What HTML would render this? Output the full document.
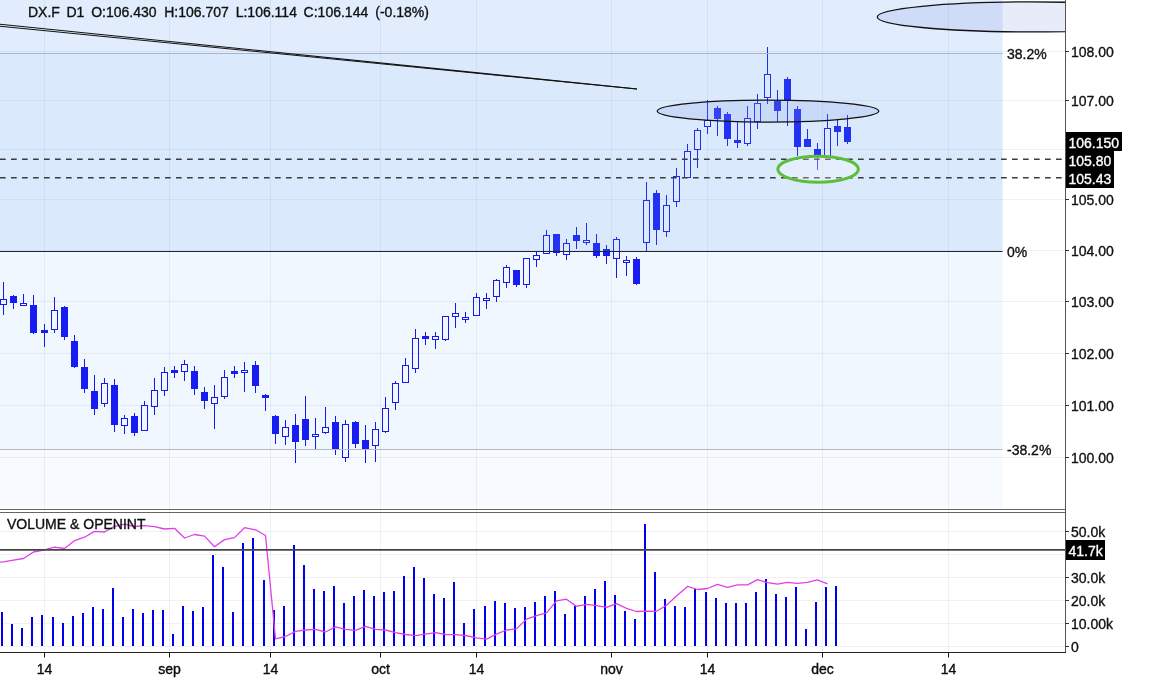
<!DOCTYPE html>
<html><head><meta charset="utf-8"><title>DX.F D1</title>
<style>html,body{margin:0;padding:0;background:#fff;}svg{display:block;will-change:transform;}</style>
</head><body>
<svg width="1150" height="682" viewBox="0 0 1150 682" style="font-family:&quot;Liberation Sans&quot;,Arial,sans-serif"><style>text{stroke:currentColor;stroke-width:0.35px;}</style>
<rect width="1150" height="682" fill="#fff"/>
<line x1="0" x2="1065" y1="51.5" y2="51.5" stroke="rgba(40,50,70,0.065)" stroke-width="1"/>
<line x1="0" x2="1065" y1="100.5" y2="100.5" stroke="rgba(40,50,70,0.065)" stroke-width="1"/>
<line x1="0" x2="1065" y1="149.5" y2="149.5" stroke="rgba(40,50,70,0.065)" stroke-width="1"/>
<line x1="0" x2="1065" y1="199.5" y2="199.5" stroke="rgba(40,50,70,0.065)" stroke-width="1"/>
<line x1="0" x2="1065" y1="250.5" y2="250.5" stroke="rgba(40,50,70,0.065)" stroke-width="1"/>
<line x1="0" x2="1065" y1="301.5" y2="301.5" stroke="rgba(40,50,70,0.065)" stroke-width="1"/>
<line x1="0" x2="1065" y1="353.5" y2="353.5" stroke="rgba(40,50,70,0.065)" stroke-width="1"/>
<line x1="0" x2="1065" y1="405.5" y2="405.5" stroke="rgba(40,50,70,0.065)" stroke-width="1"/>
<line x1="0" x2="1065" y1="457.5" y2="457.5" stroke="rgba(40,50,70,0.065)" stroke-width="1"/>
<line x1="0" x2="1065" y1="531.5" y2="531.5" stroke="rgba(40,50,70,0.065)" stroke-width="1"/>
<line x1="0" x2="1065" y1="554.5" y2="554.5" stroke="rgba(40,50,70,0.065)" stroke-width="1"/>
<line x1="0" x2="1065" y1="577.5" y2="577.5" stroke="rgba(40,50,70,0.065)" stroke-width="1"/>
<line x1="0" x2="1065" y1="600.5" y2="600.5" stroke="rgba(40,50,70,0.065)" stroke-width="1"/>
<line x1="0" x2="1065" y1="623.5" y2="623.5" stroke="rgba(40,50,70,0.065)" stroke-width="1"/>
<line x1="0" x2="1065" y1="646.5" y2="646.5" stroke="rgba(40,50,70,0.065)" stroke-width="1"/>
<line x1="44.5" x2="44.5" y1="0" y2="652" stroke="rgba(40,50,70,0.065)" stroke-width="1"/>
<line x1="169.5" x2="169.5" y1="0" y2="652" stroke="rgba(40,50,70,0.065)" stroke-width="1"/>
<line x1="270.5" x2="270.5" y1="0" y2="652" stroke="rgba(40,50,70,0.065)" stroke-width="1"/>
<line x1="380.5" x2="380.5" y1="0" y2="652" stroke="rgba(40,50,70,0.065)" stroke-width="1"/>
<line x1="476.5" x2="476.5" y1="0" y2="652" stroke="rgba(40,50,70,0.065)" stroke-width="1"/>
<line x1="611.5" x2="611.5" y1="0" y2="652" stroke="rgba(40,50,70,0.065)" stroke-width="1"/>
<line x1="707.5" x2="707.5" y1="0" y2="652" stroke="rgba(40,50,70,0.065)" stroke-width="1"/>
<line x1="822.5" x2="822.5" y1="0" y2="652" stroke="rgba(40,50,70,0.065)" stroke-width="1"/>
<line x1="948.5" x2="948.5" y1="0" y2="652" stroke="rgba(40,50,70,0.065)" stroke-width="1"/>
<rect x="3" y="282" width="1" height="17" fill="#0c0cf0"/>
<rect x="3" y="305" width="1" height="10" fill="#0c0cf0"/>
<rect x="0.5" y="299.5" width="6" height="5" fill="none" stroke="#0c0cf0" stroke-width="1"/>
<rect x="13" y="295" width="1" height="1" fill="#0c0cf0"/>
<rect x="13" y="303" width="1" height="6" fill="#0c0cf0"/>
<rect x="10" y="296" width="7" height="7" fill="#1010f2"/>
<rect x="23" y="294" width="1" height="9" fill="#0c0cf0"/>
<rect x="20.5" y="303.5" width="6" height="2" fill="none" stroke="#0c0cf0" stroke-width="1"/>
<rect x="33" y="295" width="1" height="10" fill="#0c0cf0"/>
<rect x="33" y="333" width="1" height="1" fill="#0c0cf0"/>
<rect x="30" y="305" width="7" height="28" fill="#1010f2"/>
<rect x="44" y="324" width="1" height="6" fill="#0c0cf0"/>
<rect x="44" y="333" width="1" height="14" fill="#0c0cf0"/>
<rect x="41" y="330" width="7" height="3" fill="#1010f2"/>
<rect x="54" y="297" width="1" height="13" fill="#0c0cf0"/>
<rect x="54" y="330" width="1" height="3" fill="#0c0cf0"/>
<rect x="51.5" y="310.5" width="6" height="19" fill="none" stroke="#0c0cf0" stroke-width="1"/>
<rect x="64" y="306" width="1" height="1" fill="#0c0cf0"/>
<rect x="64" y="337" width="1" height="3" fill="#0c0cf0"/>
<rect x="61" y="307" width="7" height="30" fill="#1010f2"/>
<rect x="74" y="335" width="1" height="6" fill="#0c0cf0"/>
<rect x="74" y="367" width="1" height="1" fill="#0c0cf0"/>
<rect x="71" y="341" width="7" height="26" fill="#1010f2"/>
<rect x="84" y="359" width="1" height="8" fill="#0c0cf0"/>
<rect x="84" y="389" width="1" height="4" fill="#0c0cf0"/>
<rect x="81" y="367" width="7" height="22" fill="#1010f2"/>
<rect x="94" y="375" width="1" height="16" fill="#0c0cf0"/>
<rect x="94" y="409" width="1" height="6" fill="#0c0cf0"/>
<rect x="91" y="391" width="7" height="18" fill="#1010f2"/>
<rect x="104" y="378" width="1" height="5" fill="#0c0cf0"/>
<rect x="104" y="404" width="1" height="3" fill="#0c0cf0"/>
<rect x="101.5" y="383.5" width="6" height="20" fill="none" stroke="#0c0cf0" stroke-width="1"/>
<rect x="114" y="379" width="1" height="6" fill="#0c0cf0"/>
<rect x="114" y="425" width="1" height="7" fill="#0c0cf0"/>
<rect x="111" y="385" width="7" height="40" fill="#1010f2"/>
<rect x="124" y="415" width="1" height="3" fill="#0c0cf0"/>
<rect x="124" y="426" width="1" height="8" fill="#0c0cf0"/>
<rect x="121.5" y="418.5" width="6" height="7" fill="none" stroke="#0c0cf0" stroke-width="1"/>
<rect x="134" y="413" width="1" height="3" fill="#0c0cf0"/>
<rect x="134" y="433" width="1" height="3" fill="#0c0cf0"/>
<rect x="131" y="416" width="7" height="17" fill="#1010f2"/>
<rect x="144" y="401" width="1" height="4" fill="#0c0cf0"/>
<rect x="141.5" y="405.5" width="6" height="25" fill="none" stroke="#0c0cf0" stroke-width="1"/>
<rect x="154" y="378" width="1" height="12" fill="#0c0cf0"/>
<rect x="154" y="407" width="1" height="8" fill="#0c0cf0"/>
<rect x="151.5" y="390.5" width="6" height="16" fill="none" stroke="#0c0cf0" stroke-width="1"/>
<rect x="164" y="367" width="1" height="5" fill="#0c0cf0"/>
<rect x="164" y="391" width="1" height="5" fill="#0c0cf0"/>
<rect x="161.5" y="372.5" width="6" height="18" fill="none" stroke="#0c0cf0" stroke-width="1"/>
<rect x="174" y="366" width="1" height="4" fill="#0c0cf0"/>
<rect x="174" y="373" width="1" height="5" fill="#0c0cf0"/>
<rect x="171" y="370" width="7" height="3" fill="#1010f2"/>
<rect x="184" y="360" width="1" height="4" fill="#0c0cf0"/>
<rect x="184" y="372" width="1" height="9" fill="#0c0cf0"/>
<rect x="181.5" y="364.5" width="6" height="7" fill="none" stroke="#0c0cf0" stroke-width="1"/>
<rect x="194" y="366" width="1" height="5" fill="#0c0cf0"/>
<rect x="194" y="389" width="1" height="6" fill="#0c0cf0"/>
<rect x="191" y="371" width="7" height="18" fill="#1010f2"/>
<rect x="204" y="387" width="1" height="5" fill="#0c0cf0"/>
<rect x="204" y="401" width="1" height="8" fill="#0c0cf0"/>
<rect x="201" y="392" width="7" height="9" fill="#1010f2"/>
<rect x="214" y="385" width="1" height="12" fill="#0c0cf0"/>
<rect x="214" y="404" width="1" height="25" fill="#0c0cf0"/>
<rect x="211.5" y="397.5" width="6" height="6" fill="none" stroke="#0c0cf0" stroke-width="1"/>
<rect x="224" y="370" width="1" height="7" fill="#0c0cf0"/>
<rect x="224" y="397" width="1" height="2" fill="#0c0cf0"/>
<rect x="221.5" y="377.5" width="6" height="19" fill="none" stroke="#0c0cf0" stroke-width="1"/>
<rect x="234" y="366" width="1" height="5" fill="#0c0cf0"/>
<rect x="234" y="374" width="1" height="4" fill="#0c0cf0"/>
<rect x="231" y="371" width="7" height="3" fill="#1010f2"/>
<rect x="244" y="362" width="1" height="8" fill="#0c0cf0"/>
<rect x="244" y="373" width="1" height="19" fill="#0c0cf0"/>
<rect x="241.5" y="370.5" width="6" height="2" fill="none" stroke="#0c0cf0" stroke-width="1"/>
<rect x="255" y="361" width="1" height="4" fill="#0c0cf0"/>
<rect x="255" y="386" width="1" height="7" fill="#0c0cf0"/>
<rect x="252" y="365" width="7" height="21" fill="#1010f2"/>
<rect x="265" y="394" width="1" height="1" fill="#0c0cf0"/>
<rect x="265" y="398" width="1" height="13" fill="#0c0cf0"/>
<rect x="262" y="395" width="7" height="3" fill="#1010f2"/>
<rect x="275" y="415" width="1" height="1" fill="#0c0cf0"/>
<rect x="275" y="434" width="1" height="10" fill="#0c0cf0"/>
<rect x="272" y="416" width="7" height="18" fill="#1010f2"/>
<rect x="285" y="420" width="1" height="7" fill="#0c0cf0"/>
<rect x="285" y="437" width="1" height="8" fill="#0c0cf0"/>
<rect x="282.5" y="427.5" width="6" height="9" fill="none" stroke="#0c0cf0" stroke-width="1"/>
<rect x="295" y="414" width="1" height="11" fill="#0c0cf0"/>
<rect x="295" y="442" width="1" height="21" fill="#0c0cf0"/>
<rect x="292" y="425" width="7" height="17" fill="#1010f2"/>
<rect x="305" y="396" width="1" height="23" fill="#0c0cf0"/>
<rect x="305" y="440" width="1" height="6" fill="#0c0cf0"/>
<rect x="302" y="419" width="7" height="21" fill="#1010f2"/>
<rect x="315" y="418" width="1" height="16" fill="#0c0cf0"/>
<rect x="315" y="437" width="1" height="13" fill="#0c0cf0"/>
<rect x="312.5" y="434.5" width="6" height="2" fill="none" stroke="#0c0cf0" stroke-width="1"/>
<rect x="325" y="407" width="1" height="20" fill="#0c0cf0"/>
<rect x="325" y="433" width="1" height="1" fill="#0c0cf0"/>
<rect x="322.5" y="427.5" width="6" height="5" fill="none" stroke="#0c0cf0" stroke-width="1"/>
<rect x="335" y="416" width="1" height="6" fill="#0c0cf0"/>
<rect x="335" y="449" width="1" height="6" fill="#0c0cf0"/>
<rect x="332" y="422" width="7" height="27" fill="#1010f2"/>
<rect x="345" y="420" width="1" height="4" fill="#0c0cf0"/>
<rect x="345" y="458" width="1" height="4" fill="#0c0cf0"/>
<rect x="342.5" y="424.5" width="6" height="33" fill="none" stroke="#0c0cf0" stroke-width="1"/>
<rect x="355" y="421" width="1" height="1" fill="#0c0cf0"/>
<rect x="355" y="444" width="1" height="4" fill="#0c0cf0"/>
<rect x="352" y="422" width="7" height="22" fill="#1010f2"/>
<rect x="365" y="425" width="1" height="15" fill="#0c0cf0"/>
<rect x="365" y="450" width="1" height="13" fill="#0c0cf0"/>
<rect x="362" y="440" width="7" height="10" fill="#1010f2"/>
<rect x="375" y="422" width="1" height="7" fill="#0c0cf0"/>
<rect x="375" y="446" width="1" height="16" fill="#0c0cf0"/>
<rect x="372.5" y="429.5" width="6" height="16" fill="none" stroke="#0c0cf0" stroke-width="1"/>
<rect x="385" y="397" width="1" height="11" fill="#0c0cf0"/>
<rect x="385" y="432" width="1" height="1" fill="#0c0cf0"/>
<rect x="382.5" y="408.5" width="6" height="23" fill="none" stroke="#0c0cf0" stroke-width="1"/>
<rect x="395" y="381" width="1" height="2" fill="#0c0cf0"/>
<rect x="395" y="403" width="1" height="7" fill="#0c0cf0"/>
<rect x="392.5" y="383.5" width="6" height="19" fill="none" stroke="#0c0cf0" stroke-width="1"/>
<rect x="405" y="358" width="1" height="7" fill="#0c0cf0"/>
<rect x="402.5" y="365.5" width="6" height="17" fill="none" stroke="#0c0cf0" stroke-width="1"/>
<rect x="415" y="329" width="1" height="9" fill="#0c0cf0"/>
<rect x="415" y="369" width="1" height="4" fill="#0c0cf0"/>
<rect x="412.5" y="338.5" width="6" height="30" fill="none" stroke="#0c0cf0" stroke-width="1"/>
<rect x="425" y="332" width="1" height="4" fill="#0c0cf0"/>
<rect x="425" y="339" width="1" height="6" fill="#0c0cf0"/>
<rect x="422" y="336" width="7" height="3" fill="#1010f2"/>
<rect x="435" y="332" width="1" height="4" fill="#0c0cf0"/>
<rect x="435" y="340" width="1" height="9" fill="#0c0cf0"/>
<rect x="432.5" y="336.5" width="6" height="3" fill="none" stroke="#0c0cf0" stroke-width="1"/>
<rect x="445" y="340" width="1" height="1" fill="#0c0cf0"/>
<rect x="442.5" y="316.5" width="6" height="23" fill="none" stroke="#0c0cf0" stroke-width="1"/>
<rect x="455" y="303" width="1" height="10" fill="#0c0cf0"/>
<rect x="455" y="317" width="1" height="11" fill="#0c0cf0"/>
<rect x="452.5" y="313.5" width="6" height="3" fill="none" stroke="#0c0cf0" stroke-width="1"/>
<rect x="465" y="312" width="1" height="5" fill="#0c0cf0"/>
<rect x="465" y="320" width="1" height="3" fill="#0c0cf0"/>
<rect x="462.5" y="317.5" width="6" height="2" fill="none" stroke="#0c0cf0" stroke-width="1"/>
<rect x="476" y="293" width="1" height="4" fill="#0c0cf0"/>
<rect x="473.5" y="297.5" width="6" height="18" fill="none" stroke="#0c0cf0" stroke-width="1"/>
<rect x="486" y="293" width="1" height="5" fill="#0c0cf0"/>
<rect x="486" y="301" width="1" height="8" fill="#0c0cf0"/>
<rect x="483.5" y="298.5" width="6" height="2" fill="none" stroke="#0c0cf0" stroke-width="1"/>
<rect x="496" y="279" width="1" height="1" fill="#0c0cf0"/>
<rect x="496" y="297" width="1" height="5" fill="#0c0cf0"/>
<rect x="493.5" y="280.5" width="6" height="16" fill="none" stroke="#0c0cf0" stroke-width="1"/>
<rect x="506" y="265" width="1" height="2" fill="#0c0cf0"/>
<rect x="506" y="283" width="1" height="5" fill="#0c0cf0"/>
<rect x="503.5" y="267.5" width="6" height="15" fill="none" stroke="#0c0cf0" stroke-width="1"/>
<rect x="516" y="285" width="1" height="2" fill="#0c0cf0"/>
<rect x="513" y="270" width="7" height="15" fill="#1010f2"/>
<rect x="526" y="285" width="1" height="3" fill="#0c0cf0"/>
<rect x="523.5" y="258.5" width="6" height="26" fill="none" stroke="#0c0cf0" stroke-width="1"/>
<rect x="536" y="252" width="1" height="3" fill="#0c0cf0"/>
<rect x="536" y="260" width="1" height="7" fill="#0c0cf0"/>
<rect x="533.5" y="255.5" width="6" height="4" fill="none" stroke="#0c0cf0" stroke-width="1"/>
<rect x="546" y="230" width="1" height="5" fill="#0c0cf0"/>
<rect x="543.5" y="235.5" width="6" height="18" fill="none" stroke="#0c0cf0" stroke-width="1"/>
<rect x="556" y="253" width="1" height="3" fill="#0c0cf0"/>
<rect x="553" y="234" width="7" height="19" fill="#1010f2"/>
<rect x="566" y="239" width="1" height="4" fill="#0c0cf0"/>
<rect x="566" y="255" width="1" height="5" fill="#0c0cf0"/>
<rect x="563.5" y="243.5" width="6" height="11" fill="none" stroke="#0c0cf0" stroke-width="1"/>
<rect x="576" y="227" width="1" height="8" fill="#0c0cf0"/>
<rect x="576" y="241" width="1" height="8" fill="#0c0cf0"/>
<rect x="573" y="235" width="7" height="6" fill="#1010f2"/>
<rect x="586" y="223" width="1" height="17" fill="#0c0cf0"/>
<rect x="586" y="243" width="1" height="2" fill="#0c0cf0"/>
<rect x="583.5" y="240.5" width="6" height="2" fill="none" stroke="#0c0cf0" stroke-width="1"/>
<rect x="596" y="234" width="1" height="9" fill="#0c0cf0"/>
<rect x="596" y="256" width="1" height="2" fill="#0c0cf0"/>
<rect x="593" y="243" width="7" height="13" fill="#1010f2"/>
<rect x="606" y="245" width="1" height="4" fill="#0c0cf0"/>
<rect x="606" y="256" width="1" height="8" fill="#0c0cf0"/>
<rect x="603" y="249" width="7" height="7" fill="#1010f2"/>
<rect x="616" y="237" width="1" height="2" fill="#0c0cf0"/>
<rect x="616" y="259" width="1" height="19" fill="#0c0cf0"/>
<rect x="613.5" y="239.5" width="6" height="19" fill="none" stroke="#0c0cf0" stroke-width="1"/>
<rect x="626" y="256" width="1" height="4" fill="#0c0cf0"/>
<rect x="626" y="263" width="1" height="13" fill="#0c0cf0"/>
<rect x="623.5" y="260.5" width="6" height="2" fill="none" stroke="#0c0cf0" stroke-width="1"/>
<rect x="636" y="257" width="1" height="2" fill="#0c0cf0"/>
<rect x="636" y="284" width="1" height="1" fill="#0c0cf0"/>
<rect x="633" y="259" width="7" height="25" fill="#1010f2"/>
<rect x="646" y="182" width="1" height="18" fill="#0c0cf0"/>
<rect x="646" y="243" width="1" height="8" fill="#0c0cf0"/>
<rect x="643.5" y="200.5" width="6" height="42" fill="none" stroke="#0c0cf0" stroke-width="1"/>
<rect x="656" y="190" width="1" height="3" fill="#0c0cf0"/>
<rect x="656" y="230" width="1" height="15" fill="#0c0cf0"/>
<rect x="653" y="193" width="7" height="37" fill="#1010f2"/>
<rect x="666" y="195" width="1" height="10" fill="#0c0cf0"/>
<rect x="666" y="232" width="1" height="5" fill="#0c0cf0"/>
<rect x="663.5" y="205.5" width="6" height="26" fill="none" stroke="#0c0cf0" stroke-width="1"/>
<rect x="676" y="168" width="1" height="8" fill="#0c0cf0"/>
<rect x="676" y="202" width="1" height="5" fill="#0c0cf0"/>
<rect x="673.5" y="176.5" width="6" height="25" fill="none" stroke="#0c0cf0" stroke-width="1"/>
<rect x="687" y="144" width="1" height="7" fill="#0c0cf0"/>
<rect x="684.5" y="151.5" width="6" height="26" fill="none" stroke="#0c0cf0" stroke-width="1"/>
<rect x="697" y="128" width="1" height="2" fill="#0c0cf0"/>
<rect x="697" y="150" width="1" height="18" fill="#0c0cf0"/>
<rect x="694.5" y="130.5" width="6" height="19" fill="none" stroke="#0c0cf0" stroke-width="1"/>
<rect x="707" y="100" width="1" height="20" fill="#0c0cf0"/>
<rect x="707" y="127" width="1" height="7" fill="#0c0cf0"/>
<rect x="704.5" y="120.5" width="6" height="6" fill="none" stroke="#0c0cf0" stroke-width="1"/>
<rect x="717" y="106" width="1" height="2" fill="#0c0cf0"/>
<rect x="717" y="119" width="1" height="17" fill="#0c0cf0"/>
<rect x="714" y="108" width="7" height="11" fill="#1010f2"/>
<rect x="727" y="112" width="1" height="2" fill="#0c0cf0"/>
<rect x="727" y="139" width="1" height="7" fill="#0c0cf0"/>
<rect x="724" y="114" width="7" height="25" fill="#1010f2"/>
<rect x="737" y="121" width="1" height="19" fill="#0c0cf0"/>
<rect x="737" y="143" width="1" height="5" fill="#0c0cf0"/>
<rect x="734" y="140" width="7" height="3" fill="#1010f2"/>
<rect x="747" y="106" width="1" height="12" fill="#0c0cf0"/>
<rect x="747" y="144" width="1" height="2" fill="#0c0cf0"/>
<rect x="744.5" y="118.5" width="6" height="25" fill="none" stroke="#0c0cf0" stroke-width="1"/>
<rect x="757" y="94" width="1" height="9" fill="#0c0cf0"/>
<rect x="757" y="122" width="1" height="7" fill="#0c0cf0"/>
<rect x="754.5" y="103.5" width="6" height="18" fill="none" stroke="#0c0cf0" stroke-width="1"/>
<rect x="767" y="47" width="1" height="27" fill="#0c0cf0"/>
<rect x="767" y="98" width="1" height="6" fill="#0c0cf0"/>
<rect x="764.5" y="74.5" width="6" height="23" fill="none" stroke="#0c0cf0" stroke-width="1"/>
<rect x="777" y="90" width="1" height="11" fill="#0c0cf0"/>
<rect x="777" y="111" width="1" height="11" fill="#0c0cf0"/>
<rect x="774" y="101" width="7" height="10" fill="#1010f2"/>
<rect x="787" y="77" width="1" height="2" fill="#0c0cf0"/>
<rect x="787" y="100" width="1" height="26" fill="#0c0cf0"/>
<rect x="784" y="79" width="7" height="21" fill="#1010f2"/>
<rect x="797" y="106" width="1" height="3" fill="#0c0cf0"/>
<rect x="797" y="147" width="1" height="9" fill="#0c0cf0"/>
<rect x="794" y="109" width="7" height="38" fill="#1010f2"/>
<rect x="807" y="129" width="1" height="10" fill="#0c0cf0"/>
<rect x="804" y="139" width="7" height="8" fill="#1010f2"/>
<rect x="817" y="143" width="1" height="6" fill="#0c0cf0"/>
<rect x="817" y="155" width="1" height="15" fill="#0c0cf0"/>
<rect x="814" y="149" width="7" height="6" fill="#1010f2"/>
<rect x="827" y="114" width="1" height="14" fill="#0c0cf0"/>
<rect x="824.5" y="128.5" width="6" height="29" fill="none" stroke="#0c0cf0" stroke-width="1"/>
<rect x="837" y="120" width="1" height="6" fill="#0c0cf0"/>
<rect x="837" y="132" width="1" height="14" fill="#0c0cf0"/>
<rect x="834" y="126" width="7" height="6" fill="#1010f2"/>
<rect x="847" y="115" width="1" height="12" fill="#0c0cf0"/>
<rect x="847" y="142" width="1" height="2" fill="#0c0cf0"/>
<rect x="844" y="127" width="7" height="15" fill="#1010f2"/>
<rect x="0" y="0" width="1002.5" height="53" fill="rgba(98,162,246,0.19)"/>
<rect x="0" y="53" width="1002.5" height="198.5" fill="rgba(98,162,246,0.23)"/>
<rect x="0" y="251.5" width="1002.5" height="198" fill="rgba(98,162,246,0.09)"/>
<rect x="0" y="449.5" width="1002.5" height="58" fill="rgba(98,162,246,0.05)"/>
<line x1="0" x2="1002.5" y1="53.5" y2="53.5" stroke="#a8b4c8" stroke-width="1"/>
<line x1="0" x2="1002.5" y1="251.5" y2="251.5" stroke="#1e2434" stroke-width="1.1"/>
<line x1="0" x2="1002.5" y1="449.5" y2="449.5" stroke="#b4b9c2" stroke-width="1"/>
<line x1="0" y1="24.2" x2="637" y2="89" stroke="#111" stroke-width="1.1"/>
<line x1="0" y1="26.3" x2="637" y2="89" stroke="#111" stroke-width="1.1"/>
<line x1="0" x2="1065" y1="159.3" y2="159.3" stroke="#3c3c3c" stroke-width="1.5" stroke-dasharray="5.7 5.3"/>
<line x1="0" x2="1065" y1="177.8" y2="177.8" stroke="#3c3c3c" stroke-width="1.5" stroke-dasharray="5.7 5.3"/>
<ellipse cx="768" cy="111.1" rx="110.8" ry="11" fill="rgba(125,150,228,0.19)" stroke="#111" stroke-width="1.3"/>
<clipPath id="cp"><rect x="0" y="0" width="1065" height="509"/></clipPath>
<ellipse clip-path="url(#cp)" cx="1030" cy="16.9" rx="152.7" ry="15" fill="rgba(125,150,228,0.19)" stroke="#111" stroke-width="1.3"/>
<ellipse cx="818.1" cy="169.2" rx="40.3" ry="13"  fill="rgba(255,255,255,0.25)" stroke="#5cbf3a" stroke-width="3"/>
<text x="28.0" y="16.8" font-size="14" fill="#111" color="#111">DX.F</text>
<text x="66.5" y="16.8" font-size="14" fill="#111" color="#111">D1</text>
<text x="91.2" y="16.8" font-size="14" fill="#111" color="#111">O:106.430</text>
<text x="164.20000000000002" y="16.8" font-size="14" fill="#111" color="#111">H:106.707</text>
<text x="235.70000000000002" y="16.8" font-size="14" fill="#111" color="#111">L:106.114</text>
<text x="303.59999999999997" y="16.8" font-size="14" fill="#111" color="#111">C:106.144</text>
<text x="375.29999999999995" y="16.8" font-size="14" fill="#111" color="#111">(-0.18%)</text>
<text x="1007" y="58.6" font-size="14" fill="#111" color="#111">38.2%</text>
<text x="1007" y="256.8" font-size="14" fill="#111" color="#111">0%</text>
<text x="1007" y="455.3" font-size="14" fill="#111" color="#111">-38.2%</text>
<line x1="0" x2="1065" y1="509.5" y2="509.5" stroke="#666" stroke-width="1"/>
<line x1="0" x2="1065" y1="512.5" y2="512.5" stroke="#666" stroke-width="1"/>
<rect x="1" y="612" width="2" height="34" fill="#0000f0"/>
<rect x="11" y="624" width="2" height="22" fill="#0000f0"/>
<rect x="21" y="628" width="2" height="18" fill="#0000f0"/>
<rect x="31" y="617" width="2" height="29" fill="#0000f0"/>
<rect x="41" y="615" width="2" height="31" fill="#0000f0"/>
<rect x="52" y="617" width="2" height="29" fill="#0000f0"/>
<rect x="62" y="623" width="2" height="23" fill="#0000f0"/>
<rect x="72" y="616" width="2" height="30" fill="#0000f0"/>
<rect x="82" y="613" width="2" height="33" fill="#0000f0"/>
<rect x="92" y="607" width="2" height="39" fill="#0000f0"/>
<rect x="102" y="609" width="2" height="37" fill="#0000f0"/>
<rect x="112" y="588" width="2" height="58" fill="#0000f0"/>
<rect x="122" y="617" width="2" height="29" fill="#0000f0"/>
<rect x="132" y="609" width="2" height="37" fill="#0000f0"/>
<rect x="142" y="613" width="2" height="33" fill="#0000f0"/>
<rect x="152" y="610" width="2" height="36" fill="#0000f0"/>
<rect x="162" y="610" width="2" height="36" fill="#0000f0"/>
<rect x="172" y="634" width="2" height="12" fill="#0000f0"/>
<rect x="182" y="606" width="2" height="40" fill="#0000f0"/>
<rect x="192" y="611" width="2" height="35" fill="#0000f0"/>
<rect x="202" y="607" width="2" height="39" fill="#0000f0"/>
<rect x="212" y="555" width="2" height="91" fill="#0000f0"/>
<rect x="222" y="567" width="2" height="79" fill="#0000f0"/>
<rect x="232" y="612" width="2" height="34" fill="#0000f0"/>
<rect x="242" y="543" width="2" height="103" fill="#0000f0"/>
<rect x="252" y="538" width="2" height="108" fill="#0000f0"/>
<rect x="263" y="580" width="2" height="66" fill="#0000f0"/>
<rect x="273" y="610" width="2" height="36" fill="#0000f0"/>
<rect x="283" y="606" width="2" height="40" fill="#0000f0"/>
<rect x="293" y="545" width="2" height="101" fill="#0000f0"/>
<rect x="303" y="565" width="2" height="81" fill="#0000f0"/>
<rect x="313" y="589" width="2" height="57" fill="#0000f0"/>
<rect x="323" y="591" width="2" height="55" fill="#0000f0"/>
<rect x="333" y="586" width="2" height="60" fill="#0000f0"/>
<rect x="343" y="603" width="2" height="43" fill="#0000f0"/>
<rect x="353" y="596" width="2" height="50" fill="#0000f0"/>
<rect x="363" y="590" width="2" height="56" fill="#0000f0"/>
<rect x="373" y="596" width="2" height="50" fill="#0000f0"/>
<rect x="383" y="592" width="2" height="54" fill="#0000f0"/>
<rect x="393" y="591" width="2" height="55" fill="#0000f0"/>
<rect x="403" y="576" width="2" height="70" fill="#0000f0"/>
<rect x="413" y="567" width="2" height="79" fill="#0000f0"/>
<rect x="423" y="578" width="2" height="68" fill="#0000f0"/>
<rect x="433" y="594" width="2" height="52" fill="#0000f0"/>
<rect x="443" y="598" width="2" height="48" fill="#0000f0"/>
<rect x="453" y="582" width="2" height="64" fill="#0000f0"/>
<rect x="463" y="623" width="2" height="23" fill="#0000f0"/>
<rect x="473" y="609" width="2" height="37" fill="#0000f0"/>
<rect x="484" y="606" width="2" height="40" fill="#0000f0"/>
<rect x="494" y="601" width="2" height="45" fill="#0000f0"/>
<rect x="504" y="603" width="2" height="43" fill="#0000f0"/>
<rect x="514" y="608" width="2" height="38" fill="#0000f0"/>
<rect x="524" y="607" width="2" height="39" fill="#0000f0"/>
<rect x="534" y="602" width="2" height="44" fill="#0000f0"/>
<rect x="544" y="596" width="2" height="50" fill="#0000f0"/>
<rect x="554" y="591" width="2" height="55" fill="#0000f0"/>
<rect x="564" y="614" width="2" height="32" fill="#0000f0"/>
<rect x="574" y="606" width="2" height="40" fill="#0000f0"/>
<rect x="584" y="596" width="2" height="50" fill="#0000f0"/>
<rect x="594" y="589" width="2" height="57" fill="#0000f0"/>
<rect x="604" y="581" width="2" height="65" fill="#0000f0"/>
<rect x="614" y="595" width="2" height="51" fill="#0000f0"/>
<rect x="624" y="611" width="2" height="35" fill="#0000f0"/>
<rect x="634" y="619" width="2" height="27" fill="#0000f0"/>
<rect x="644" y="524" width="2" height="122" fill="#0000f0"/>
<rect x="654" y="572" width="2" height="74" fill="#0000f0"/>
<rect x="664" y="599" width="2" height="47" fill="#0000f0"/>
<rect x="674" y="606" width="2" height="40" fill="#0000f0"/>
<rect x="684" y="607" width="2" height="39" fill="#0000f0"/>
<rect x="694" y="589" width="2" height="57" fill="#0000f0"/>
<rect x="705" y="592" width="2" height="54" fill="#0000f0"/>
<rect x="715" y="598" width="2" height="48" fill="#0000f0"/>
<rect x="725" y="603" width="2" height="43" fill="#0000f0"/>
<rect x="735" y="603" width="2" height="43" fill="#0000f0"/>
<rect x="745" y="603" width="2" height="43" fill="#0000f0"/>
<rect x="755" y="592" width="2" height="54" fill="#0000f0"/>
<rect x="765" y="579" width="2" height="67" fill="#0000f0"/>
<rect x="775" y="594" width="2" height="52" fill="#0000f0"/>
<rect x="785" y="597" width="2" height="49" fill="#0000f0"/>
<rect x="795" y="587" width="2" height="59" fill="#0000f0"/>
<rect x="805" y="629" width="2" height="17" fill="#0000f0"/>
<rect x="815" y="602" width="2" height="44" fill="#0000f0"/>
<rect x="825" y="587" width="2" height="59" fill="#0000f0"/>
<rect x="835" y="586" width="2" height="60" fill="#0000f0"/>
<polyline points="-6.5,563 3.5,561.8 13.5,560.2 23.5,558.5 33.5,552 44.5,549.9 54.5,547.2 64.5,548.5 74.5,540.7 84.5,537.2 94.5,531.4 104.5,532.0 114.5,526.3 124.5,524.2 134.5,526.5 144.5,525.7 154.5,526.7 164.5,529 174.5,528.3 184.5,538 194.5,534.5 204.5,536.1 214.5,546.8 224.5,539.6 234.5,537.6 244.5,527.7 255.5,529.8 265.5,535.5 275.5,638.8 285.5,636.5 295.5,631.4 305.5,630 315.5,629.4 325.5,632 335.5,626.9 345.5,629.4 355.5,630.4 365.5,626.3 375.5,629.4 385.5,630 395.5,632.6 405.5,634.5 415.5,635.7 425.5,634.1 435.5,632.6 445.5,634.5 455.5,634.7 465.5,635.5 476.5,637.8 486.5,639.2 496.5,634.1 506.5,630 516.5,628.9 526.5,619.1 536.5,615.6 546.5,612.9 556.5,600.8 566.5,599.2 576.5,606.4 586.5,604.3 596.5,605.7 606.5,607.4 616.5,603.7 626.5,608.4 636.5,611.5 646.5,611.1 656.5,611.3 666.5,605.3 676.5,596.1 687.5,586.4 697.5,589.5 707.5,588.5 717.5,584.4 727.5,587.3 737.5,584.8 747.5,584.8 757.5,579.7 767.5,582.7 777.5,584.2 787.5,582.3 797.5,583.4 807.5,582.3 817.5,579.8 827.5,583.9" fill="none" stroke="#e040e8" stroke-width="1.3" stroke-linejoin="round"/>
<line x1="0" x2="1065" y1="549.9" y2="549.9" stroke="#444" stroke-width="1.6"/>
<text x="7" y="528.8" font-size="14" fill="#111" color="#111">VOLUME &amp; OPENINT</text>
<line x1="1065.5" x2="1065.5" y1="0" y2="652.5" stroke="#555" stroke-width="1"/>
<line x1="0" x2="1066" y1="652.5" y2="652.5" stroke="#222" stroke-width="1"/>
<line x1="1065" x2="1069" y1="51.5" y2="51.5" stroke="#333" stroke-width="1"/>
<text x="1071" y="56.9" font-size="14" fill="#111" color="#111">108.00</text>
<line x1="1065" x2="1069" y1="100.5" y2="100.5" stroke="#333" stroke-width="1"/>
<text x="1071" y="105.9" font-size="14" fill="#111" color="#111">107.00</text>
<line x1="1065" x2="1069" y1="199.5" y2="199.5" stroke="#333" stroke-width="1"/>
<text x="1071" y="204.9" font-size="14" fill="#111" color="#111">105.00</text>
<line x1="1065" x2="1069" y1="250.5" y2="250.5" stroke="#333" stroke-width="1"/>
<text x="1071" y="255.9" font-size="14" fill="#111" color="#111">104.00</text>
<line x1="1065" x2="1069" y1="301.5" y2="301.5" stroke="#333" stroke-width="1"/>
<text x="1071" y="306.9" font-size="14" fill="#111" color="#111">103.00</text>
<line x1="1065" x2="1069" y1="353.5" y2="353.5" stroke="#333" stroke-width="1"/>
<text x="1071" y="358.9" font-size="14" fill="#111" color="#111">102.00</text>
<line x1="1065" x2="1069" y1="405.5" y2="405.5" stroke="#333" stroke-width="1"/>
<text x="1071" y="410.9" font-size="14" fill="#111" color="#111">101.00</text>
<line x1="1065" x2="1069" y1="457.5" y2="457.5" stroke="#333" stroke-width="1"/>
<text x="1071" y="462.9" font-size="14" fill="#111" color="#111">100.00</text>
<line x1="1065" x2="1069" y1="531.5" y2="531.5" stroke="#333" stroke-width="1"/>
<text x="1071" y="536.5" font-size="14" fill="#111" color="#111">50.0k</text>
<line x1="1065" x2="1069" y1="577.5" y2="577.5" stroke="#333" stroke-width="1"/>
<text x="1071" y="582.5" font-size="14" fill="#111" color="#111">30.0k</text>
<line x1="1065" x2="1069" y1="600.5" y2="600.5" stroke="#333" stroke-width="1"/>
<text x="1071" y="605.5" font-size="14" fill="#111" color="#111">20.0k</text>
<line x1="1065" x2="1069" y1="623.5" y2="623.5" stroke="#333" stroke-width="1"/>
<text x="1071" y="628.5" font-size="14" fill="#111" color="#111">10.00k</text>
<line x1="1065" x2="1069" y1="646.5" y2="646.5" stroke="#333" stroke-width="1"/>
<text x="1071" y="651.5" font-size="14" fill="#111" color="#111">0</text>
<rect x="1066" y="132" width="56" height="19" fill="#000"/>
<text x="1068.5" y="148.3" font-size="14" fill="#fff" color="#fff">106.150</text>
<rect x="1066" y="151" width="48" height="18" fill="#000"/>
<text x="1068.5" y="166.2" font-size="14" fill="#fff" color="#fff">105.80</text>
<rect x="1066" y="169" width="48" height="19" fill="#000"/>
<text x="1068.5" y="184.2" font-size="14" fill="#fff" color="#fff">105.43</text>
<rect x="1066" y="540" width="39" height="20" fill="#000"/>
<text x="1068.5" y="555.5" font-size="14" fill="#fff" color="#fff">41.7k</text>
<line x1="44.5" x2="44.5" y1="652" y2="657.5" stroke="#111" stroke-width="1"/>
<text x="44.5" y="673.8" font-size="14" fill="#111" text-anchor="middle">14</text>
<line x1="169.5" x2="169.5" y1="652" y2="657.5" stroke="#111" stroke-width="1"/>
<text x="169.5" y="673.8" font-size="14" fill="#111" text-anchor="middle">sep</text>
<line x1="270.5" x2="270.5" y1="652" y2="657.5" stroke="#111" stroke-width="1"/>
<text x="270.5" y="673.8" font-size="14" fill="#111" text-anchor="middle">14</text>
<line x1="380.5" x2="380.5" y1="652" y2="657.5" stroke="#111" stroke-width="1"/>
<text x="380.5" y="673.8" font-size="14" fill="#111" text-anchor="middle">oct</text>
<line x1="476.5" x2="476.5" y1="652" y2="657.5" stroke="#111" stroke-width="1"/>
<text x="476.5" y="673.8" font-size="14" fill="#111" text-anchor="middle">14</text>
<line x1="611.5" x2="611.5" y1="652" y2="657.5" stroke="#111" stroke-width="1"/>
<text x="611.5" y="673.8" font-size="14" fill="#111" text-anchor="middle">nov</text>
<line x1="707.5" x2="707.5" y1="652" y2="657.5" stroke="#111" stroke-width="1"/>
<text x="707.5" y="673.8" font-size="14" fill="#111" text-anchor="middle">14</text>
<line x1="822.5" x2="822.5" y1="652" y2="657.5" stroke="#111" stroke-width="1"/>
<text x="822.5" y="673.8" font-size="14" fill="#111" text-anchor="middle">dec</text>
<line x1="948.5" x2="948.5" y1="652" y2="657.5" stroke="#111" stroke-width="1"/>
<text x="948.5" y="673.8" font-size="14" fill="#111" text-anchor="middle">14</text>
</svg>
</body></html>
